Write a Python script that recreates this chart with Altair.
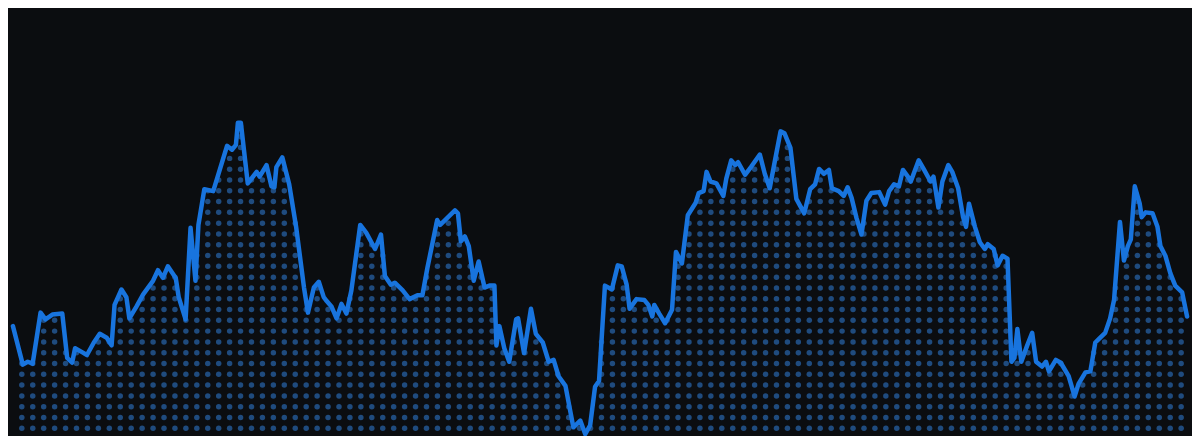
import altair as alt
import numpy as np
import pandas as pd

# time positions (horizontal) and series values
t = [5, 15, 20, 25, 33, 38, 45, 55, 60, 65, 68, 75, 80, 87, 93, 100, 105, 108, 115, 120,
     123, 130, 137, 147, 152, 157, 162, 170, 173, 180, 185, 190, 193, 199, 208, 222, 227, 231, 233, 236,
     243, 252, 255, 262, 267, 270, 272, 278, 285, 292, 300, 304, 310, 315, 320, 323, 328, 333, 338, 343,
     348, 357, 363, 372, 378, 382, 388, 392, 400, 407, 415, 420, 425, 435, 438, 445, 453, 456, 459, 463,
     467, 472, 477, 483, 488, 493, 495, 498, 503, 508, 515, 517, 523, 530, 535, 542, 548, 553, 558, 565,
     573, 580, 585, 590, 595, 599, 605, 612, 618, 622, 627, 630, 637, 645, 649, 653, 655, 660, 666, 673,
     677, 683, 689, 697, 700, 705, 708, 712, 718, 725, 728, 733, 737, 740, 747, 753, 762, 767, 772, 777,
     783, 787, 793, 799, 807, 813, 818, 822, 827, 832, 835, 842, 847, 851, 855, 860, 865, 870, 875, 883,
     889, 893, 898, 903, 907, 912, 915, 923, 928, 935, 938, 943, 947, 953, 957, 963, 968, 971, 974, 980,
     985, 990, 993, 999, 1003, 1008, 1013, 1017, 1020, 1023, 1027, 1033, 1038, 1042, 1048, 1052, 1055, 1062, 1067, 1075,
     1081, 1085, 1092, 1097, 1102, 1106, 1112, 1117, 1121, 1127, 1131, 1135, 1138, 1142, 1147, 1149, 1153, 1160, 1165, 1168,
     1173, 1178, 1183, 1190, 1195]

values = [114, 74, 77, 75, 128, 121, 126, 127, 81, 76, 91, 87, 84, 97, 106, 102, 94, 136, 152, 144,
          122, 134, 147, 161, 172, 164, 176, 164, 144, 121, 216, 161, 219, 256, 254, 301, 297, 302, 325, 325,
          262, 274, 269, 281, 259, 258, 279, 289, 261, 217, 154, 128, 154, 160, 144, 140, 134, 122, 137, 127,
          151, 219, 211, 194, 209, 166, 157, 159, 151, 142, 146, 146, 174, 224, 219, 226, 234, 231, 202, 207,
          197, 161, 181, 154, 156, 156, 94, 114, 91, 77, 121, 122, 86, 132, 106, 97, 77, 79, 62, 52,
          9, 16, 2, 11, 51, 57, 156, 152, 177, 176, 157, 132, 142, 141, 136, 124, 136, 127, 117, 131,
          191, 179, 229, 242, 252, 254, 274, 264, 262, 249, 267, 286, 281, 284, 271, 279, 292, 272, 257, 284,
          316, 314, 299, 246, 231, 256, 261, 277, 272, 276, 257, 254, 249, 258, 247, 226, 209, 244, 252, 253,
          240, 254, 261, 259, 276, 269, 264, 286, 277, 264, 269, 237, 264, 281, 274, 257, 227, 217, 241, 217,
          201, 194, 199, 194, 177, 187, 184, 77, 81, 111, 77, 94, 107, 77, 72, 77, 67, 79, 76, 62,
          41, 54, 66, 67, 97, 101, 107, 122, 141, 222, 182, 197, 204, 259, 241, 227, 232, 231, 217, 197,
          187, 169, 156, 149, 124]

line_df = pd.DataFrame({"t": t, "value": values})

# dotted fill pattern under the line (grid spacing in data units)
DX, DY = 11.085, 11.2
gx = np.arange(14, max(t) + 0.1, DX)
gy = np.arange(8, 444, DY)
line_at = np.interp(gx, np.array(t, float), np.array(values, float))
dots = [(x, y) for x, lv in zip(gx, line_at) for y in gy if y < lv]
dot_df = pd.DataFrame(dots, columns=["t", "value"])

xs = alt.Scale(domain=[0, 1200], nice=False, zero=False)
ys = alt.Scale(domain=[0, 444], nice=False, zero=False)

dot_layer = alt.Chart(dot_df).mark_circle(size=30, color="#1f4b7e", opacity=1).encode(
    x=alt.X("t:Q", scale=xs, axis=None),
    y=alt.Y("value:Q", scale=ys, axis=None),
)

line_layer = alt.Chart(line_df).mark_line(
    color="#1874de", strokeWidth=4.5, strokeJoin="round", strokeCap="round"
).encode(
    x=alt.X("t:Q", scale=xs, axis=None),
    y=alt.Y("value:Q", scale=ys, axis=None),
)

chart = alt.layer(dot_layer, line_layer).properties(
    width=1184, height=428, padding=0, background="#0b0d10",
    autosize=alt.AutoSizeParams(type="none"),
).configure_view(strokeWidth=0)

chart.save("out.html", embed_options={"renderer": "svg", "actions": False})
